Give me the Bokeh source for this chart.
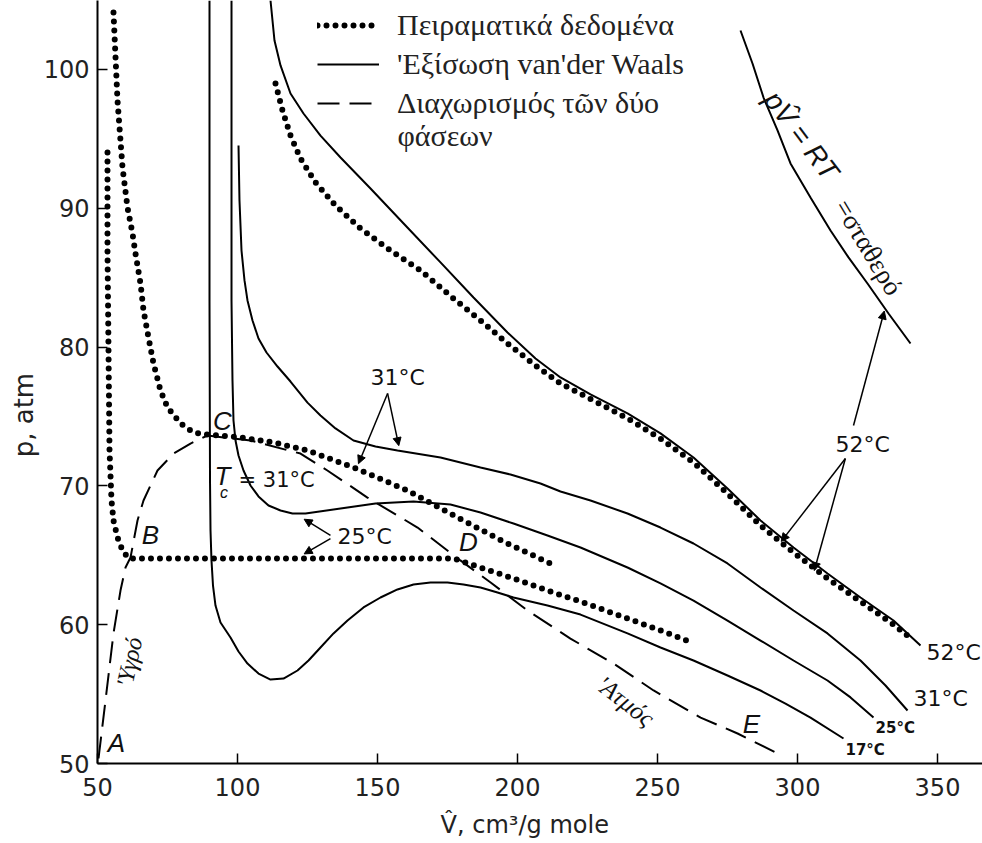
from bokeh.plotting import figure
from bokeh.models import FixedTicker, Legend, LegendItem, Label, Arrow, NormalHead
from bokeh.core.properties import value
from bokeh.embed import file_html
from bokeh.resources import INLINE

# ---------------- data ----------------
# van der Waals isotherms (solid)
vdw17_V = [90.0, 90.0, 90.18, 90.36, 90.71, 91.25, 92.14, 93.93, 97.5, 100.36, 103.57, 107.5,
           111.79, 116.43, 121.43, 125.36, 129.64, 134.29, 139.29, 145.0, 151.07, 157.14, 162.86,
           168.93, 175.0, 180.71, 186.79, 192.86, 198.57, 210.71, 222.5, 239.29, 251.07, 262.86,
           275.0, 286.79, 295.71, 304.64, 316.43]
vdw17_p = [104.97, 83.36, 70.39, 66.79, 64.63, 62.82, 61.38, 60.16, 59.08, 58.07, 57.2, 56.48,
           56.05, 56.12, 56.7, 57.42, 58.36, 59.37, 60.3, 61.24, 61.96, 62.54, 62.9,
           63.04, 63.04, 62.9, 62.68, 62.32, 61.96, 61.38, 60.73, 59.37, 58.36, 57.42,
           56.34, 55.26, 54.32, 53.31, 51.8]

vdw25_V = [97.86, 97.86, 98.21, 98.57, 99.29, 100.36, 102.14, 104.64, 107.5, 111.07, 115.36,
           119.64, 124.29, 136.79, 149.29, 162.86, 176.07, 186.79, 198.57, 210.71, 222.5, 239.29,
           251.07, 262.86, 275.0, 286.79, 298.57, 310.71, 318.93, 327.14]
vdw25_p = [104.97, 83.36, 77.59, 74.71, 73.27, 72.19, 71.11, 70.03, 69.24, 68.59, 68.23,
           68.01, 68.01, 68.37, 68.73, 68.88, 68.66, 68.08, 67.29, 66.43, 65.56, 64.12,
           62.97, 61.74, 60.3, 58.86, 57.42, 55.98, 54.76, 53.31]

vdw31_V = [100.36, 100.71, 101.43, 102.5, 103.57, 105.36, 107.5, 110.36, 114.29, 118.93, 125.0,
           129.64, 135.0, 141.43, 149.29, 157.14, 172.5, 186.79, 197.5, 208.21, 215.36, 226.07,
           239.29, 251.07, 262.86, 275.0, 286.79, 298.57, 310.71, 322.5, 331.43, 339.29]
vdw31_p = [94.52, 90.56, 86.96, 84.8, 83.36, 81.92, 80.62, 79.61, 78.6, 77.52, 76.0,
           75.07, 74.14, 73.27, 72.84, 72.55, 72.05, 71.33, 70.82, 70.17, 69.6, 68.95,
           68.01, 67.0, 65.85, 64.41, 62.68, 61.02, 59.37, 57.42, 55.62, 53.82]

vdw52_V = [111.79, 113.21, 115.36, 118.93, 123.57, 129.64, 136.79, 147.5, 160.0, 172.5, 184.29,
           196.43, 206.43, 215.36, 226.07, 239.29, 251.07, 262.86, 275.0, 286.79, 298.57, 310.71,
           322.5, 334.29, 343.93]
vdw52_p = [104.97, 102.09, 100.29, 98.27, 96.83, 95.24, 93.66, 91.43, 88.76, 86.1, 83.57,
           81.05, 79.18, 77.81, 76.59, 75.22, 73.78, 72.05, 69.81, 67.51, 65.56, 63.69,
           61.96, 60.3, 58.5]

# ideal gas, pV = RT at 52 C (solid)
ideal_V = [279.64, 283.93, 287.86, 292.86, 297.5, 304.64, 311.79, 318.21, 325.0, 332.5, 340.36]
ideal_p = [102.81, 100.43, 97.98, 95.61, 93.23, 90.78, 88.4, 86.46, 84.58, 82.42, 80.26]

# experimental data (dotted)
exp25_V = [53.57, 53.57, 53.93, 54.29, 55.0, 55.71, 57.14, 58.93, 61.07, 177.1, 186.8, 198.6,
           210.7, 222.5, 239.3, 251.1, 263.0]
exp25_p = [94.02, 86.96, 79.76, 72.55, 68.95, 67.51, 66.28, 65.35, 64.77, 64.77, 64.12, 63.33,
           62.46, 61.67, 60.45, 59.58, 58.65]

exp31_V = [55.71, 57.14, 58.93, 60.71, 62.5, 63.57, 65.36, 66.43, 68.21, 70.0, 72.5, 75.0, 79.64,
           84.29, 89.29, 101.1, 112.9, 125.0, 141.4, 160.7, 178.6, 196.4, 211.8]
exp31_p = [104.1, 97.77, 92.94, 90.06, 88.18, 86.74, 84.58, 82.64, 80.69, 78.82, 76.87, 75.65, 74.5,
           73.85, 73.7, 73.49, 73.13, 72.55, 71.33, 69.67, 67.72, 65.85, 64.41]

exp52_V = [113.57, 116.07, 118.93, 122.5, 127.86, 135.0, 143.93, 154.64, 165.36, 177.14, 186.79,
           196.43, 206.43, 215.36, 227.14, 239.29, 251.07, 262.86, 275.0, 286.79, 298.57, 310.71,
           322.5, 334.29, 341.43]
exp52_p = [98.99, 97.05, 95.24, 93.59, 91.86, 90.2, 88.54, 86.96, 85.52, 83.5, 81.92,
           80.26, 78.67, 77.38, 76.15, 74.86, 73.41, 71.69, 69.45, 67.15, 65.2, 63.33,
           61.67, 60.01, 58.86]

# two-phase boundary (dashed)
dome_V = [50.36, 52.86, 55.71, 58.21, 60.0, 61.79, 64.29, 66.43, 71.43, 77.14, 83.21, 89.29, 104.6,
          122.5, 132.1, 146.4, 164.3, 179.6, 190.4, 203.6, 218.9, 234.3, 248.6, 265.4, 278.6, 292.9]
dome_p = [50.36, 54.54, 59.37, 62.46, 64.12, 64.84, 67.51, 68.95, 71.11, 72.33, 73.05, 73.63, 73.27,
          72.33, 71.11, 69.16, 67.0, 64.63, 63.04, 61.02, 59.0, 57.2, 55.26, 53.31, 52.16, 50.72]

x_ticks = [50, 100, 150, 200, 250, 300, 350]
y_ticks = [50, 60, 70, 80, 90, 100]

# point labels
pt_text = ["A", "B", "C", "D", "E"]
pt_V = [56.79, 68.93, 94.64, 182.5, 283.57]
pt_p = [51.51, 66.43, 74.71, 65.99, 52.88]

# temperature labels (left aligned)
tl_text = ["31°C", "25°C", "52°C", "52°C", "31°C"]
tl_V = [147.5, 135.7, 313.6, 346.1, 341.4]
tl_p = [77.81, 66.35, 72.98, 58.0, 54.68]
small_text = ["25°C", "17°C"]
small_V = [327.86, 317.14]
small_p = [52.59, 50.94]

# arrows: (x_start, y_start, x_end, y_end)
arrows = [(153.6, 76.66, 143.2, 71.6), (153.6, 76.66, 157.6, 72.9),
          (133.2, 66.43, 123.8, 67.6), (133.2, 66.2, 123.8, 65.1),
          (317.1, 71.97, 294.2, 66.0), (317.1, 71.97, 306.0, 63.9),
          (320.0, 74.35, 331.0, 82.6)]

# ---------------- figure ----------------
p = figure(width=982, height=843, x_range=(50, 366.07), y_range=(50, 104.97),
           output_backend="svg", toolbar_location=None,
           min_border_left=97, min_border_right=0, min_border_top=0, min_border_bottom=80)
p.outline_line_color = None
p.grid.visible = False

for ax in (p.xaxis, p.yaxis):
    ax.axis_line_width = 2
    ax.axis_line_color = "black"
    ax.major_tick_in = 10
    ax.major_tick_out = 0
    ax.minor_tick_line_color = None
    ax.major_tick_line_width = 1.5
    ax.major_label_text_font = "DejaVu Sans"
    ax.major_label_text_font_size = "24px"
    ax.major_label_text_color = "#222222"
    ax.axis_label_text_font = "DejaVu Sans"
    ax.axis_label_text_font_style = "normal"
    ax.axis_label_text_color = "#222222"

p.xaxis.ticker = FixedTicker(ticks=x_ticks)
p.yaxis.ticker = FixedTicker(ticks=y_ticks)
p.xaxis.major_label_standoff = 14
p.yaxis.major_label_standoff = 8
nb = "\u00a0"
p.xaxis.axis_label = "V̂, cm³/g mole" + nb * 4
p.yaxis.axis_label = "p, atm" + nb * 8
p.xaxis.axis_label_text_font_size = "24px"
p.yaxis.axis_label_text_font_size = "26px"
p.xaxis.axis_label_standoff = 12
p.yaxis.axis_label_standoff = 2

solid = dict(line_color="black", line_width=2)
dots = dict(line_color="black", line_width=6, line_dash="0 9", line_cap="round")

r17 = p.line(vdw17_V, vdw17_p, **solid)
p.line(vdw25_V, vdw25_p, **solid)
p.line(vdw31_V, vdw31_p, **solid)
p.line(vdw52_V, vdw52_p, **solid)
p.line(ideal_V, ideal_p, **solid)

rdot = p.line(exp25_V, exp25_p, **dots)
p.line(exp31_V, exp31_p, **dots)
p.line(exp52_V, exp52_p, **dots)

rdash = p.line(dome_V, dome_p, line_color="black", line_width=2, line_dash="22 10")


def txt(x, y, s, size, font="DejaVu Sans", style="normal", align="center", angle=0.0):
    p.text(x=x, y=y, text=s, text_font=value(font), text_font_size=size,
           text_font_style=style, text_align=align, text_baseline="middle",
           angle=angle, text_color="#111111")


txt(pt_V, pt_p, pt_text, "26px", font="Liberation Sans", style="italic")
txt(tl_V, tl_p, tl_text, "22px", align="left")
txt(small_V, small_p, small_text, "15px", align="left", style="bold")

# T_c = 31 C
txt([94.64], [70.68], ["T"], "26px", font="Liberation Sans", style="italic")
txt([95.2], [69.55], ["c"], "16px", font="Liberation Sans", style="italic")
txt([100.36], [70.46], ["= 31°C"], "21px", align="left")

# curve annotations
txt([301.43], [95.24], ["pV̂ = RT"], "28px", font="Liberation Sans", style="italic", angle=-0.92)
txt([325.36], [87.18], ["=σταθερό"], "27px", font="Liberation Serif", angle=-1.03)
txt([61.4], [57.3], ["'Υγρό"], "24px", font="Liberation Serif", style="italic", angle=1.36)
txt([238.6], [54.5], ["'Ατμός"], "25px", font="Liberation Serif", style="italic", angle=-0.66)

for (xs, ys, xe, ye) in arrows:
    p.add_layout(Arrow(x_start=xs, y_start=ys, x_end=xe, y_end=ye, line_width=1.5,
                       line_color="black",
                       end=NormalHead(size=8, fill_color="black", line_color="black", line_width=1)))

legend = Legend(items=[LegendItem(label="Πειραματικά δεδομένα", renderers=[rdot]),
                       LegendItem(label="'Εξίσωση van'der Waals", renderers=[r17]),
                       LegendItem(label="Διαχωρισμός τῶν δύο", renderers=[rdash])],
                location=(220, 643), orientation="vertical", padding=0, margin=0, spacing=5,
                glyph_width=62, glyph_height=34, label_height=34, label_standoff=18,
                label_text_font="Liberation Serif", label_text_font_size="30px",
                label_text_color="#222222", border_line_color=None, background_fill_alpha=0)
p.add_layout(legend)
p.add_layout(Label(x=300, y=628, x_units="screen", y_units="screen", text="φάσεων",
                   text_font="Liberation Serif", text_font_size="30px", text_baseline="middle",
                   text_color="#222222"))

open("out.html", "w").write(file_html(p, INLINE))
